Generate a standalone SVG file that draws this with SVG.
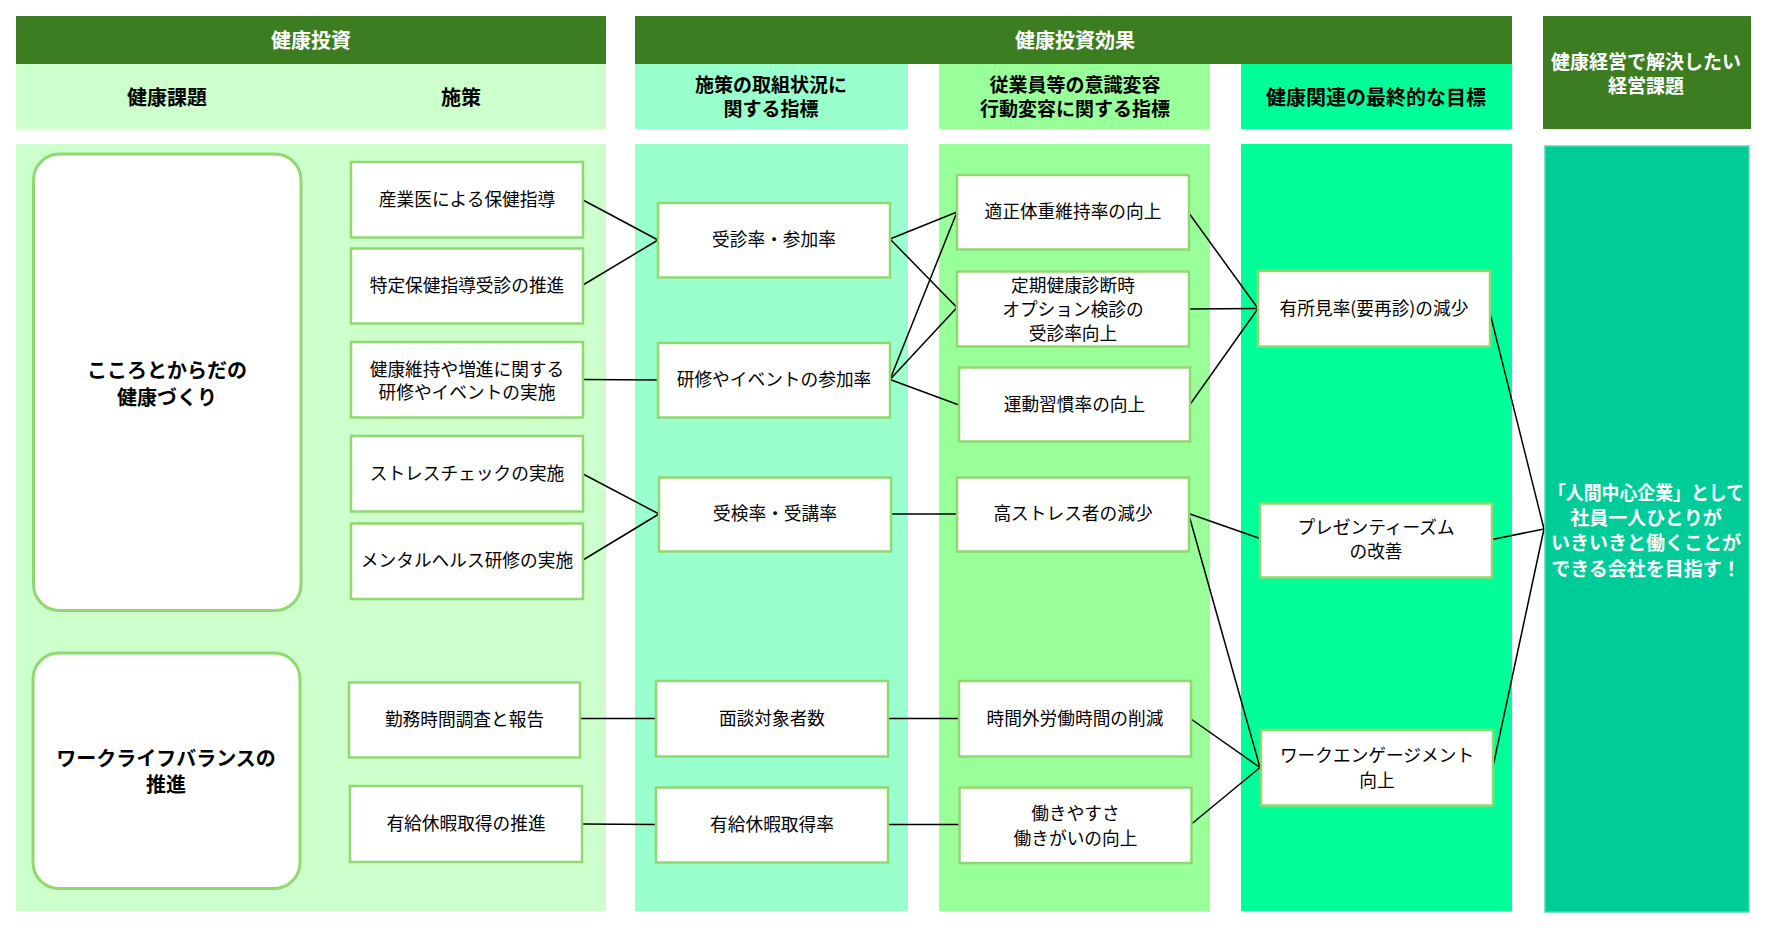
<svg xmlns="http://www.w3.org/2000/svg" width="1768" height="928" viewBox="0 0 1768 928">
<style>
text{font-family:"Noto Sans CJK JP","Noto Sans",sans-serif;text-anchor:middle;}
.hd{fill:#3D7D22;}
.ht{fill:#ffffff;font-size:20px;font-weight:bold;}
.ht2{fill:#ffffff;font-size:19px;font-weight:bold;}
.st{fill:#000000;font-size:20px;font-weight:bold;}
.st2{fill:#000000;font-size:19px;font-weight:bold;}
.bx{fill:#ffffff;stroke:#90D870;stroke-width:2.5;}
.rr{fill:#ffffff;stroke:#90D870;stroke-width:3;}
.t{fill:#000000;font-size:17.7px;}
.tb{fill:#000000;font-size:20px;font-weight:bold;}
.tw{fill:#ffffff;font-size:19px;font-weight:bold;}
.cn line{stroke:#000000;stroke-width:1.5;}
</style>
<rect width="1768" height="928" fill="#ffffff"/>
<g id="headers">
<rect class="hd" x="16" y="16" width="590" height="48"/>
<text class="ht" x="311" y="48">健康投資</text>
<rect class="hd" x="635" y="16" width="877" height="48"/>
<text class="ht" x="1075" y="48">健康投資効果</text>
<rect class="hd" x="1543" y="16" width="208" height="113"/>
<text class="ht2" x="1646" y="68.7">健康経営で解決したい</text>
<text class="ht2" x="1646" y="92.7">経営課題</text>
<rect x="16" y="64" width="590" height="65" fill="#CCFFCC"/>
<text class="st" x="167" y="105">健康課題</text>
<text class="st" x="461" y="105">施策</text>
<rect x="635" y="64" width="273" height="65" fill="#99FFCC"/>
<text class="st2" x="771" y="92.3">施策の取組状況に</text>
<text class="st2" x="771" y="116.3">関する指標</text>
<rect x="939" y="64" width="271" height="65" fill="#99FF99"/>
<text class="st2" x="1075" y="92.3">従業員等の意識変容</text>
<text class="st2" x="1075" y="116.3">行動変容に関する指標</text>
<rect x="1241" y="64" width="271" height="65" fill="#00FF99"/>
<text class="st" x="1376" y="105">健康関連の最終的な目標</text>
</g>
<g id="columns">
<rect x="16" y="144" width="590" height="767" fill="#CCFFCC"/>
<rect x="635" y="144" width="273" height="767" fill="#99FFCC"/>
<rect x="939" y="144" width="271" height="767" fill="#99FF99"/>
<rect x="1241" y="144" width="271" height="767" fill="#00FF99"/>
</g>
<g id="connectors" class="cn">
<line x1="583" y1="200" x2="658" y2="240"/>
<line x1="583" y1="285" x2="658" y2="240"/>
<line x1="583" y1="379.5" x2="658" y2="380"/>
<line x1="583" y1="474" x2="659" y2="514"/>
<line x1="583" y1="560" x2="659" y2="514"/>
<line x1="580" y1="718.5" x2="656" y2="718.5"/>
<line x1="582" y1="824" x2="656" y2="824.5"/>
<line x1="890" y1="239" x2="957" y2="212"/>
<line x1="890" y1="239" x2="957" y2="307.5"/>
<line x1="890" y1="379.5" x2="957" y2="212"/>
<line x1="890" y1="379.5" x2="957" y2="307.5"/>
<line x1="890" y1="379.5" x2="959" y2="405"/>
<line x1="891" y1="514" x2="957" y2="514"/>
<line x1="888" y1="718.5" x2="959" y2="718.5"/>
<line x1="888" y1="824.5" x2="960" y2="824.5"/>
<line x1="1188.5" y1="212.5" x2="1258" y2="308.5"/>
<line x1="1189.5" y1="309" x2="1258" y2="308.5"/>
<line x1="1190" y1="404.5" x2="1258" y2="308.5"/>
<line x1="1188.5" y1="513.5" x2="1260" y2="538.5"/>
<line x1="1188.5" y1="513.5" x2="1260" y2="767.5"/>
<line x1="1191" y1="719" x2="1260" y2="767.5"/>
<line x1="1191.5" y1="824" x2="1260" y2="767.5"/>
<line x1="1489" y1="309" x2="1544" y2="529"/>
<line x1="1492" y1="539.5" x2="1544" y2="529"/>
<line x1="1493" y1="766.5" x2="1544" y2="529"/>
</g>
<g id="goal">
<rect x="1545" y="146" width="204" height="766" fill="#00CC99" stroke="#4DDDB3" stroke-width="1.5"/>
<text class="tw" x="1646" y="499.7" textLength="196" lengthAdjust="spacingAndGlyphs">「人間中心企業」として</text>
<text class="tw" x="1646" y="525.3">社員一人ひとりが</text>
<text class="tw" x="1646" y="550.3">いきいきと働くことが</text>
<text class="tw" x="1646" y="576">できる会社を目指す！</text>
</g>
<g id="issue1"><rect class="rr" x="33.5" y="154" width="267.5" height="456.5" rx="26"/><text class="tb" x="167" y="378">こころとからだの</text><text class="tb" x="167" y="404.7">健康づくり</text></g>
<g id="issue2"><rect class="rr" x="33" y="653" width="267" height="235.5" rx="26"/><text class="tb" x="166" y="765.5">ワークライフバランスの</text><text class="tb" x="166" y="791.5">推進</text></g>
<g id="b1"><rect class="bx" x="351" y="162" width="232" height="75.5"/><text class="t" x="467" y="206.3">産業医による保健指導</text></g>
<g id="b2"><rect class="bx" x="351" y="248.5" width="232" height="75"/><text class="t" x="467" y="292.3">特定保健指導受診の推進</text></g>
<g id="b3"><rect class="bx" x="351" y="342" width="232" height="75.5"/><text class="t" x="467" y="375.6">健康維持や増進に関する</text><text class="t" x="467" y="398.6">研修やイベントの実施</text></g>
<g id="b4"><rect class="bx" x="351" y="436" width="232" height="75.5"/><text class="t" x="467" y="480.3">ストレスチェックの実施</text></g>
<g id="b5"><rect class="bx" x="351" y="523.5" width="232" height="75.5"/><text class="t" x="467" y="567.3">メンタルヘルス研修の実施</text></g>
<g id="b6"><rect class="bx" x="349" y="682.5" width="231" height="75"/><text class="t" x="464.5" y="726.3">勤務時間調査と報告</text></g>
<g id="b7"><rect class="bx" x="350" y="786" width="232" height="76"/><text class="t" x="466" y="830.3">有給休暇取得の推進</text></g>
<g id="c1"><rect class="bx" x="658" y="203" width="232" height="74.5"/><text class="t" x="774" y="246.3">受診率・参加率</text></g>
<g id="c2"><rect class="bx" x="658" y="343" width="232" height="74.5"/><text class="t" x="774" y="386.3">研修やイベントの参加率</text></g>
<g id="c3"><rect class="bx" x="659" y="477.5" width="232" height="74"/><text class="t" x="775" y="520.3">受検率・受講率</text></g>
<g id="c4"><rect class="bx" x="656" y="681" width="232" height="75.5"/><text class="t" x="772" y="725.3">面談対象者数</text></g>
<g id="c5"><rect class="bx" x="656" y="787.5" width="232" height="75"/><text class="t" x="772" y="831.3">有給休暇取得率</text></g>
<g id="g1"><rect class="bx" x="957" y="175" width="232" height="74.5"/><text class="t" x="1073" y="218.3">適正体重維持率の向上</text></g>
<g id="g2"><rect class="bx" x="957" y="271.5" width="232" height="75"/><text class="t" x="1073" y="292.3">定期健康診断時</text><text class="t" x="1073" y="315.6">オプション検診の</text><text class="t" x="1073" y="339.6">受診率向上</text></g>
<g id="g3"><rect class="bx" x="959" y="367.5" width="231" height="74"/><text class="t" x="1074.5" y="411.3">運動習慣率の向上</text></g>
<g id="g4"><rect class="bx" x="957" y="477.5" width="232" height="74"/><text class="t" x="1073" y="520.3">高ストレス者の減少</text></g>
<g id="g5"><rect class="bx" x="959" y="681" width="232" height="75.5"/><text class="t" x="1075" y="725.3">時間外労働時間の削減</text></g>
<g id="g6"><rect class="bx" x="959.5" y="787.5" width="232" height="75.5"/><text class="t" x="1075.5" y="819.6">働きやすさ</text><text class="t" x="1075.5" y="844.6">働きがいの向上</text></g>
<g id="t1"><rect class="bx" x="1258" y="271" width="232" height="75.5"/><text class="t" x="1374" y="315.3">有所見率(要再診)の減少</text></g>
<g id="t2"><rect class="bx" x="1260" y="503.5" width="232" height="74"/><text class="t" x="1376" y="534">プレゼンティーズム</text><text class="t" x="1376" y="558">の改善</text></g>
<g id="t3"><rect class="bx" x="1261" y="730" width="232" height="75.5"/><text class="t" x="1377" y="762">ワークエンゲージメント</text><text class="t" x="1377" y="787.3">向上</text></g>
</svg>
